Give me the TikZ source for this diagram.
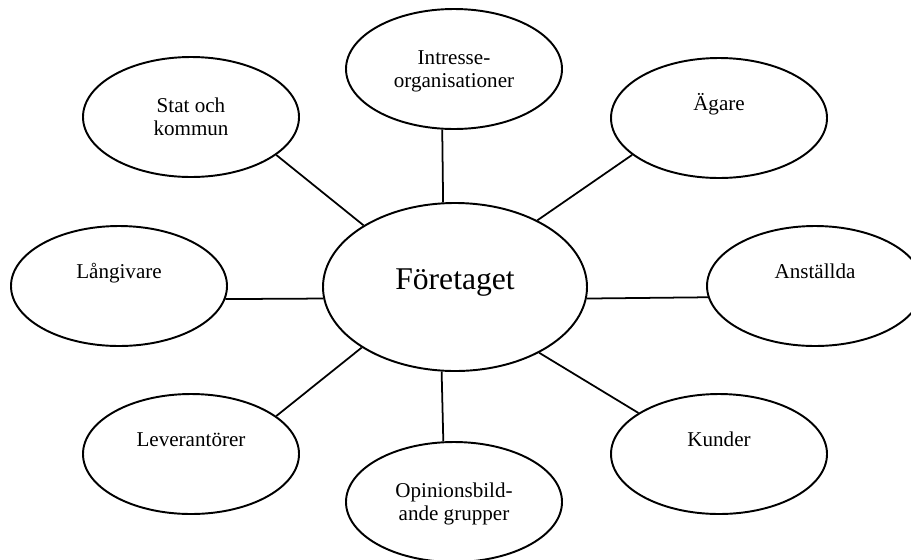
\documentclass[tikz,border=0pt]{standalone}
\usepackage{fontspec}
\setmainfont{Liberation Serif}
\usepackage{tikz}
\usetikzlibrary{shapes.geometric}

\begin{document}
\begin{tikzpicture}[x=0.2mm,y=-0.2mm,
  party/.style={ellipse,draw,line width=1.1pt,inner sep=0pt,
    minimum width=43.2mm,minimum height=24mm,align=center,
    font=\fontsize{12}{12.7}\selectfont,text height=23pt,text depth=2.4pt},
  oneline/.style={text height=8pt,text depth=16pt},
  hub/.style={ellipse,draw,line width=1.1pt,inner sep=0pt,
    minimum width=52.8mm,minimum height=33.6mm,
    font=\fontsize{18}{21}\selectfont,text height=12pt,text depth=9.6pt},
  tie/.style={line width=1pt}]
  \clip (0,0) rectangle (911,559);
  % the firm in the middle
  \node[hub] (firm) at (455,287) {Företaget};
  % the stakeholders round it
  \node[party] (intr) at (454,69) {Intresse-\\organisationer};
  \node[party] (stat) at (191,117) {Stat och\\kommun};
  \node[party,oneline] (agare) at (719,118) {Ägare};
  \node[party,oneline] (lang) at (119,286) {Långivare};
  \node[party,oneline] (anst) at (815,286) {Anställda};
  \node[party,oneline] (lev) at (191,454) {Leverantörer};
  \node[party,oneline] (kund) at (719,454) {Kunder};
  \node[party] (opin) at (454,502) {Opinionsbild-\\ande grupper};

  \draw[tie] (intr.259.8) -- (firm.98.1);
  \draw[tie] (stat.336) -- (firm.146);
  \draw[tie] (agare.203.2) -- (firm.39.2);
  \draw[tie] (lang.353.4) -- (firm.185);
  \draw[tie] (anst.186.7) -- (firm.355);
  \draw[tie] (lev.24.1) -- (firm.213.3);
  \draw[tie] (kund.153.6) -- (firm.322);
  \draw[tie] (opin.100.4) -- (firm.261.8);
\end{tikzpicture}
\end{document}
